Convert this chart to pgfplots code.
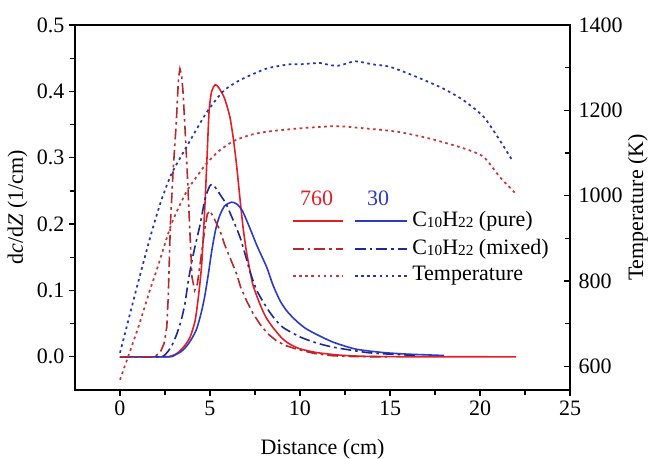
\documentclass[border=0pt]{standalone}
\usepackage{fontspec}
\setmainfont{Liberation Serif}
\usepackage{pgfplots}
\pgfplotsset{compat=1.18}
\definecolor{rsolid}{HTML}{E41E26}
\definecolor{bsolid}{HTML}{2B3CC0}
\definecolor{rdash}{HTML}{B3292E}
\definecolor{bdash}{HTML}{1C2A96}
\definecolor{rdot}{HTML}{C8363A}
\definecolor{bdot}{HTML}{2434B8}
\newcommand{\fs}{\fontsize{16.5}{19}\selectfont}
\newcommand{\sub}[1]{\raisebox{-0.12ex}{\fontsize{11.5}{12}\selectfont #1}}
\tikzset{
  dd/.style={dash pattern=on 8pt off 3pt on 2pt off 3pt},
  dt/.style={dash pattern=on 2pt off 2.6pt},
}
\begin{document}
\begin{tikzpicture}
\begin{axis}[
  name=main, at={(0,0)}, anchor=south west,
  width=371.25pt, height=273.75pt, scale only axis,
  xmin=-2.5, xmax=25, ymin=-0.05, ymax=0.5,
  xtick={0,5,10,15,20,25}, minor x tick num=1,
  ytick={0,0.1,0.2,0.3,0.4,0.5}, minor y tick num=1,
  xtick pos=lower, ytick pos=left, tick align=outside,
  major tick length=4.5pt, minor tick length=3.5pt,
  axis line style={line width=1.1pt},
  every tick/.style={line width=1pt, black},
  ticklabel style={font=\fs},
  label style={font=\fs},
  xlabel style={yshift=-11pt},
  /pgf/number format/assume math mode=true,
  scaled y ticks=false,
  yticklabel style={/pgf/number format/.cd, fixed, fixed zerofill, precision=1},
  xlabel={Distance (cm)},
  ylabel={d\textit{c}/d\textit{Z} (1/cm)},
]
% 760 pure
\addplot[rsolid, line width=1.2pt, smooth, tension=0.4] coordinates {
(0,0) (2.5,0) (2.8,0.001) (3.1,0.004) (3.33,0.009) (3.6,0.017) (3.9,0.03) (4.17,0.054) (4.35,0.089) (4.54,0.14) (4.72,0.23) (4.85,0.31) (4.95,0.37) (5.09,0.40) (5.3,0.41) (5.5,0.405) (5.8,0.39) (6.1,0.362) (6.3,0.328) (6.48,0.288) (6.67,0.237) (6.85,0.192) (7.04,0.156) (7.22,0.13) (7.4,0.107) (7.78,0.079) (8.1,0.06) (8.5,0.044) (9.0,0.028) (9.44,0.019) (10,0.012) (10.9,0.0065) (12,0.003) (12.8,0.0015) (14,0.0005) (16,0.0001) (22,0)};
% 30 pure
\addplot[bsolid, line width=1.2pt, smooth, tension=0.4] coordinates {
(0,0) (2.7,0) (3.0,0.002) (3.4,0.008) (3.7,0.016) (4.0,0.028) (4.26,0.042) (4.5,0.065) (4.7,0.09) (4.91,0.125) (5.1,0.16) (5.3,0.19) (5.5,0.21) (5.8,0.227) (6.2,0.233) (6.5,0.23) (6.8,0.22) (7.2,0.195) (7.6,0.168) (8.15,0.135) (8.5,0.108) (8.9,0.084) (9.3,0.068) (9.8,0.054) (10.3,0.043) (10.9,0.034) (11.85,0.022) (13.1,0.0116) (14.6,0.0065) (16,0.004) (18,0.002)};
% 30 mixed
\addplot[bdash, line width=1.2pt, dd, smooth, tension=0.4] coordinates {
(0,0) (2.2,0) (2.6,0.006) (2.9,0.018) (3.15,0.034) (3.4,0.055) (3.6,0.079) (3.8,0.115) (4.0,0.145) (4.2,0.17) (4.44,0.198) (4.65,0.228) (4.8,0.245) (5.0,0.258) (5.1,0.26) (5.3,0.255) (5.6,0.243) (5.9,0.23) (6.3,0.205) (6.67,0.18) (7.0,0.15) (7.2,0.13) (7.6,0.1) (8.15,0.074) (8.6,0.057) (9.07,0.044) (10,0.03) (10.9,0.021) (11.85,0.0145) (13.7,0.0065) (15,0.004) (16.5,0.002)};
% 760 mixed
\addplot[rdash, line width=1.2pt, dd] coordinates {
(0,0) (1.9,0) (2.22,0.006) (2.45,0.02) (2.6,0.045) (2.68,0.09) (2.8,0.2) (2.95,0.28) (3.12,0.35) (3.25,0.42) (3.33,0.434) (3.42,0.425) (3.5,0.40) (3.62,0.34) (3.75,0.27) (3.88,0.19) (4.0,0.12) (4.15,0.10) (4.3,0.11) (4.5,0.15) (4.7,0.19) (4.85,0.215) (5.0,0.22) (5.2,0.21) (5.56,0.19) (5.8,0.17) (6.1,0.15) (6.48,0.125) (6.7,0.105) (7.04,0.084) (7.4,0.065) (7.78,0.049) (8.2,0.035) (8.7,0.024) (9.2,0.017) (9.8,0.0116) (10.8,0.005) (11.85,0.0015) (13,0.0003) (15,0)};
\end{axis}
\begin{axis}[
  at={(0,0)}, anchor=south west,
  width=371.25pt, height=273.75pt, scale only axis,
  xmin=-2.5, xmax=25, ymin=545, ymax=1400,
  axis x line=none, axis y line*=right,
  ytick={600,800,1000,1200,1400}, minor y tick num=1,
  tick align=inside,
  major tick length=4.5pt, minor tick length=3.5pt,
  axis line style={line width=1.1pt},
  every tick/.style={line width=1pt, black},
  ticklabel style={font=\fs},
  yticklabel style={xshift=3pt},
  label style={font=\fs},
  ylabel style={yshift=3pt},
  /pgf/number format/assume math mode=true,
  /pgf/number format/1000 sep={},
  ylabel={Temperature (K)},
]
\addplot[bdot, line width=1.3pt, dt, smooth, tension=0.4] coordinates {
(0,632) (0.5,714) (1.0,796) (1.76,915) (2.3,990) (2.87,1052) (3.7,1115) (4.81,1195) (5.74,1245) (6.67,1271) (8.15,1298) (9.44,1308) (10,1308) (11.1,1311) (11.67,1306) (12.2,1305) (13.06,1315) (14,1308) (15,1302) (16.5,1278) (17.96,1251) (19.07,1224) (20.2,1185) (21.1,1130) (21.76,1085)};
\addplot[rdot, line width=1.3pt, dt, smooth, tension=0.4] coordinates {
(0,569) (1,690) (1.67,780) (2.04,826) (2.87,935) (3.7,1010) (4.44,1055) (4.81,1076) (5.5,1105) (6.3,1128) (7.2,1142) (8.15,1150) (10,1158) (12,1163) (13.3,1159) (15.4,1150) (17.2,1134) (19.1,1111) (20.2,1091) (21.1,1044) (21.94,1007)};
\end{axis}
% legend (decoration, positioned in pt relative to the axis box)
\node[font=\fs, text=rsolid] at (181.3pt,144pt) {760};
\node[font=\fs, text=bsolid] at (227.25pt,144pt) {30};
\draw[draw=rsolid, line width=1.2pt] (163.5pt,126.75pt) -- (201pt,126.75pt);
\draw[draw=bsolid, line width=1.2pt] (210pt,126.75pt) -- (249pt,126.75pt);
\draw[draw=rdash, line width=1.2pt, dd] (163.5pt,105.75pt) -- (201pt,105.75pt);
\draw[draw=bdash, line width=1.2pt, dd] (210pt,105.75pt) -- (249pt,105.75pt);
\draw[draw=rdot, line width=1.3pt, dt] (163.5pt,85.5pt) -- (201pt,85.5pt);
\draw[draw=bdot, line width=1.3pt, dt] (210pt,85.5pt) -- (249pt,85.5pt);
\node[font=\fs, anchor=west, inner sep=0pt] at (252.75pt,126.75pt) {C\sub{10}H\sub{22} (pure)};
\node[font=\fs, anchor=west, inner sep=0pt] at (252.75pt,105.75pt) {C\sub{10}H\sub{22} (mixed)};
\node[font=\fs, anchor=west, inner sep=0pt] at (252.75pt,85.5pt) {Temperature};
\pgfresetboundingbox
\path[use as bounding box] (-56.25pt,-51.75pt) rectangle (432pt,292.5pt);
\end{tikzpicture}
\end{document}
